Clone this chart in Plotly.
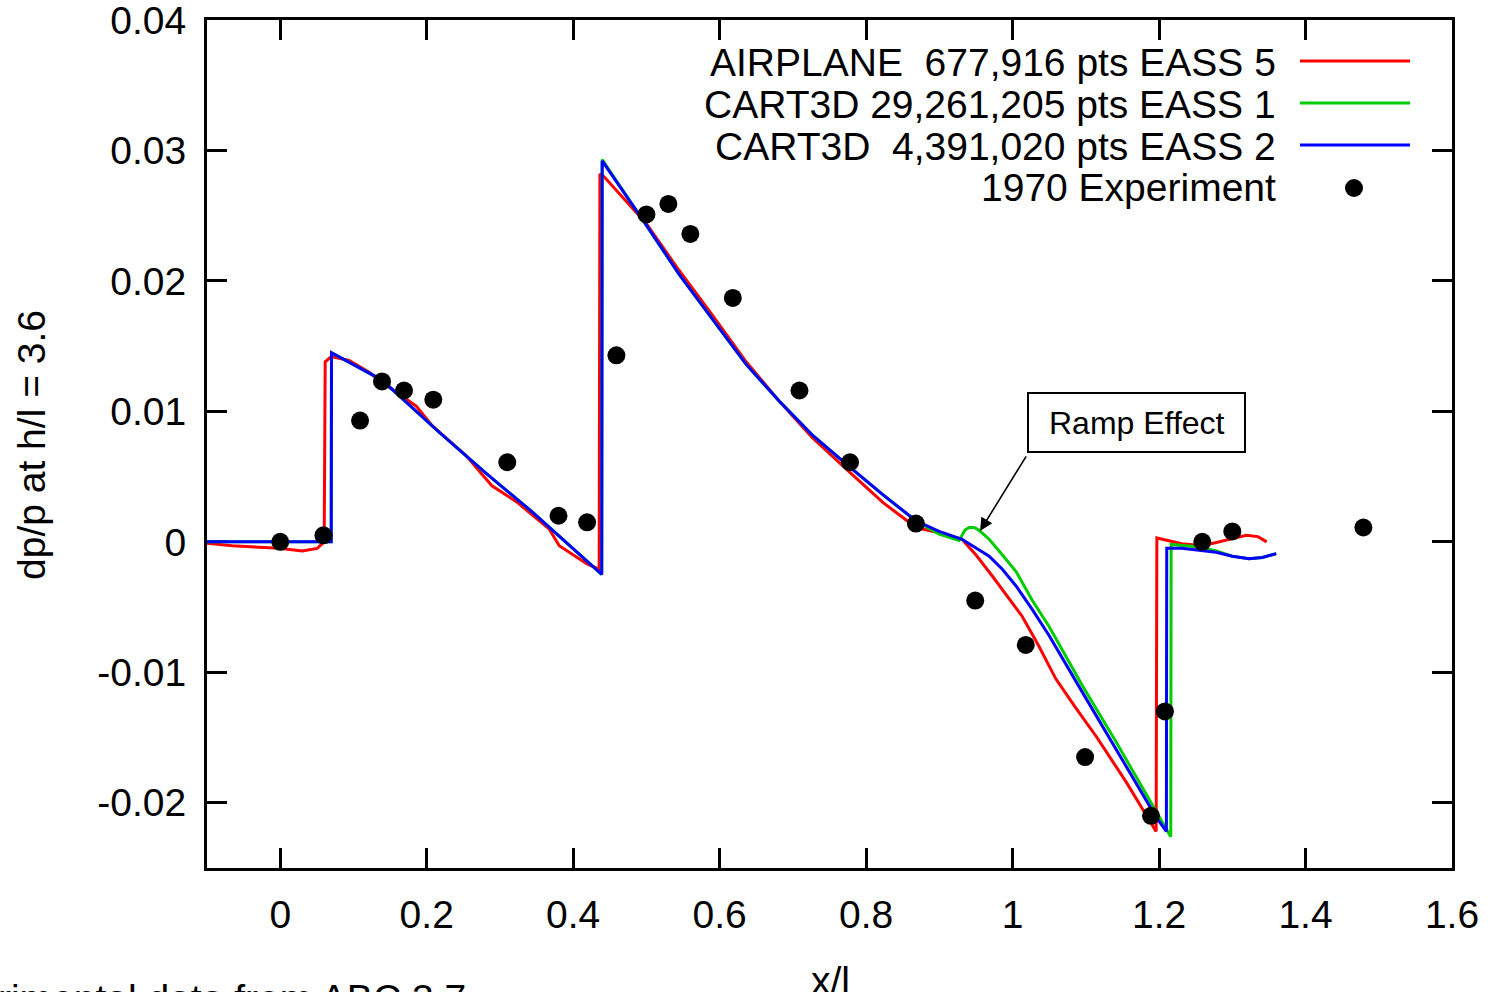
import plotly.graph_objects as go

# ---------------- data ----------------
airplane_x = [-0.10, -0.0655, -0.0014, 0.030, 0.0505, 0.060, 0.0614, 0.0696, 0.094, 0.1215,
              0.1447, 0.1857, 0.2075, 0.254, 0.289, 0.322, 0.367, 0.381, 0.419, 0.4355,
              0.4365, 0.442, 0.4997, 0.5447, 0.5898, 0.6362, 0.6812, 0.7263, 0.7782, 0.8232,
              0.8683, 0.8997, 0.931, 0.950, 0.972, 0.992, 1.013, 1.036, 1.059, 1.086,
              1.114, 1.155, 1.196, 1.197, 1.231, 1.260, 1.290, 1.319, 1.335, 1.347]
airplane_y = [-0.0001, -0.0003, -0.0005, -0.0007, -0.0005, 0.0, 0.0138, 0.0142, 0.0139, 0.0130,
              0.0120, 0.0104, 0.0089, 0.0066, 0.0043, 0.0031, 0.0010, -0.0003, -0.0017, -0.0021,
              0.0282, 0.0280, 0.0244, 0.0208, 0.0174, 0.0138, 0.0108, 0.0080, 0.0053, 0.0030,
              0.0011, 0.0007, 0.0002, -0.0010, -0.0026, -0.0041, -0.0057, -0.0080, -0.0105, -0.0127,
              -0.0149, -0.0184, -0.0222, 0.0003, -0.00015, -0.0003, 0.0001, 0.0005, 0.0004, 0.0]

cart_fine_x = [-0.10, 0.0696, 0.0700, 0.100, 0.139, 0.217, 0.280, 0.344, 0.4390, 0.4396, 0.4997,
               0.5447, 0.5898, 0.6362, 0.6812, 0.7263, 0.7782, 0.8232, 0.8683, 0.8997, 0.927,
               0.931, 0.935, 0.9406, 0.9474, 0.954, 0.968, 0.9816, 1.005, 1.027, 1.050,
               1.095, 1.141, 1.186, 1.2160, 1.2165, 1.255, 1.278, 1.300, 1.323, 1.341, 1.360]
cart_fine_y = [0.0, 0.0, 0.0145, 0.0136, 0.0124, 0.0084, 0.0053, 0.0023, -0.0025, 0.0293, 0.0243,
               0.0205, 0.0171, 0.0136, 0.0108, 0.0082, 0.0057, 0.0036, 0.0016, 0.0006, 0.0001,
               0.0005, 0.0009, 0.0011, 0.0011, 0.0009, 0.0002, -0.0007, -0.0023, -0.0045, -0.0065,
               -0.0110, -0.0153, -0.0197, -0.0226, -0.0002, -0.0004, -0.0007, -0.0011, -0.0013, -0.0012, -0.0009]

cart_coarse_x = [-0.10, 0.0696, 0.0700, 0.100, 0.139, 0.217, 0.280, 0.344, 0.4390, 0.4396, 0.4997,
                 0.5447, 0.5898, 0.6362, 0.6812, 0.7263, 0.7782, 0.8232, 0.8683, 0.8997, 0.931,
                 0.950, 0.968, 0.986, 1.005, 1.027, 1.050, 1.095, 1.141, 1.196, 1.2100,
                 1.2105, 1.231, 1.278, 1.300, 1.323, 1.341, 1.360]
cart_coarse_y = [0.0, 0.0, 0.0145, 0.0136, 0.0124, 0.0084, 0.0053, 0.0023, -0.0025, 0.0292, 0.0243,
                 0.0205, 0.0171, 0.0136, 0.0108, 0.0082, 0.0057, 0.0036, 0.0016, 0.0008, 0.0002,
                 -0.0005, -0.0011, -0.0021, -0.0034, -0.0052, -0.0072, -0.0115, -0.0159, -0.0211, -0.0222,
                 -0.0005, -0.0005, -0.0008, -0.0011, -0.0013, -0.0012, -0.0009]

exp_x = [0.0, 0.059, 0.109, 0.139, 0.169, 0.209, 0.310, 0.380, 0.419, 0.459, 0.500, 0.530, 0.560,
         0.618, 0.709, 0.778, 0.868, 0.949, 1.018, 1.099, 1.189, 1.208, 1.259, 1.300, 1.479]
exp_y = [0.0, 0.0005, 0.0093, 0.0123, 0.0116, 0.0109, 0.0061, 0.0020, 0.0015, 0.0143, 0.0251, 0.0259, 0.0236,
         0.0187, 0.0116, 0.0061, 0.0014, -0.0045, -0.0079, -0.0165, -0.0210, -0.0130, 0.0000, 0.0008, 0.0011]

series_names = ["AIRPLANE  677,916 pts EASS 5", "CART3D 29,261,205 pts EASS 1",
                "CART3D  4,391,020 pts EASS 2", "1970 Experiment"]
series_colors = ["#ff0000", "#00cc00", "#0000ff", "#000000"]

x_tick_vals = [0, 0.2, 0.4, 0.6, 0.8, 1.0, 1.2, 1.4, 1.6]
x_tick_text = ["0", "0.2", "0.4", "0.6", "0.8", "1", "1.2", "1.4", "1.6"]
y_tick_vals = [-0.02, -0.01, 0, 0.01, 0.02, 0.03, 0.04]
y_tick_text = ["-0.02", "-0.01", "0", "0.01", "0.02", "0.03", "0.04"]

FONT = "Liberation Sans, Arial, sans-serif"
FS = 39

fig = go.Figure()
fig.add_trace(go.Scatter(x=airplane_x, y=airplane_y, mode="lines", name=series_names[0],
                         line=dict(color=series_colors[0], width=3)))
fig.add_trace(go.Scatter(x=cart_fine_x, y=cart_fine_y, mode="lines", name=series_names[1],
                         line=dict(color=series_colors[1], width=3)))
fig.add_trace(go.Scatter(x=cart_coarse_x, y=cart_coarse_y, mode="lines", name=series_names[2],
                         line=dict(color=series_colors[2], width=3)))
fig.add_trace(go.Scatter(x=exp_x, y=exp_y, mode="markers", name=series_names[3],
                         marker=dict(color=series_colors[3], size=18)))

# geometry helpers (plot area in pixels)
L, R, T, B = 207, 1452, 20, 868
W, H = 1490, 992
def px(p):
    return (p - L) / (R - L)
def py(p):
    return (B - p) / (B - T)

annotations = []
shapes = []

# manual gnuplot-style key (text right-aligned, sample on the right)
rows = [62, 104, 146, 188]
for i, name in enumerate(series_names):
    annotations.append(dict(x=px(1278), y=py(rows[i]), xref="paper", yref="paper", text=name,
                            showarrow=False, xanchor="right", yanchor="middle",
                            font=dict(family=FONT, size=FS, color="black")))
    if i < 3:
        shapes.append(dict(type="line", xref="paper", yref="paper", x0=px(1300), x1=px(1410),
                           y0=py(rows[i] - 1), y1=py(rows[i] - 1),
                           line=dict(color=series_colors[i], width=3)))
    else:
        shapes.append(dict(type="circle", xref="paper", yref="paper", xsizemode="pixel",
                           ysizemode="pixel", xanchor=px(1354), yanchor=py(rows[i]),
                           x0=-9, x1=9, y0=-9, y1=9, fillcolor="black", line=dict(width=0)))

# Ramp Effect box + arrow
shapes.append(dict(type="rect", xref="paper", yref="paper", x0=px(1028), x1=px(1245),
                   y0=py(452), y1=py(393), line=dict(color="black", width=2), fillcolor="white"))
annotations.append(dict(x=px(1136.5), y=py(423), xref="paper", yref="paper", text="Ramp Effect",
                        showarrow=False, xanchor="center", yanchor="middle",
                        font=dict(family=FONT, size=32, color="black")))
annotations.append(dict(x=0.9556, y=0.00084, xref="x", yref="y", ax=1.0198, ay=0.00667,
                        axref="x", ayref="y", text="", showarrow=True, arrowhead=2,
                        arrowsize=1.6, arrowwidth=1.6, arrowcolor="black", standoff=0))

# axis titles
annotations.append(dict(x=px(32), y=py(445), xref="paper", yref="paper", text="dp/p at h/l = 3.6",
                        showarrow=False, textangle=-90, xanchor="center", yanchor="middle",
                        font=dict(family=FONT, size=39, color="black")))
annotations.append(dict(x=px(830), y=py(957), xref="paper", yref="paper", text="x/l",
                        showarrow=False, xanchor="center", yanchor="top",
                        font=dict(family=FONT, size=FS, color="black")))
annotations.append(dict(x=px(468), y=py(975), xref="paper", yref="paper",
                        text="Experimental data from ABC 3.7",
                        showarrow=False, xanchor="right", yanchor="top",
                        font=dict(family=FONT, size=FS, color="black")))

axis_common = dict(showline=True, linewidth=3, linecolor="black", mirror="allticks",
                   ticks="inside", ticklen=20, tickwidth=3, tickcolor="black",
                   showgrid=False, zeroline=False, layer="below traces",
                   ticklabeloverflow="allow", automargin=False,
                   tickfont=dict(family=FONT, size=FS, color="black"))

fig.update_layout(
    width=W, height=H,
    margin=dict(l=L, r=W - R, t=T, b=H - B, pad=0, autoexpand=False),
    paper_bgcolor="white", plot_bgcolor="white",
    showlegend=False,
    xaxis=dict(range=[-0.1, 1.6], tickvals=x_tick_vals, ticktext=x_tick_text,
               ticklabelstandoff=10, **axis_common),
    yaxis=dict(range=[-0.025, 0.04], tickvals=y_tick_vals, ticktext=y_tick_text,
               ticklabelstandoff=10, **axis_common),
    annotations=annotations,
    shapes=shapes,
)

fig.write_html("out.html")
